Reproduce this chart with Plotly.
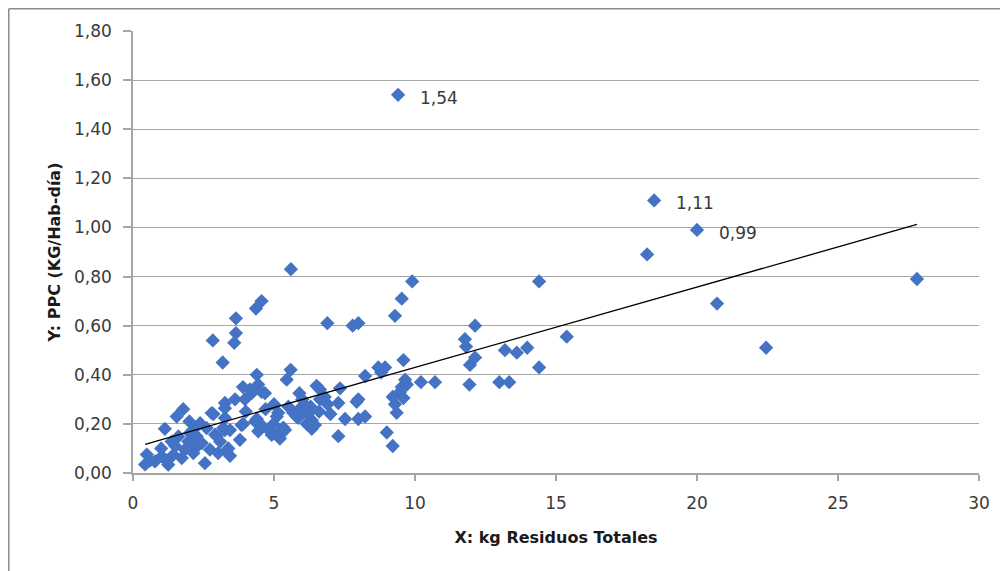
import plotly.graph_objects as go

# Data
x_vals = [
    9.40, 18.48, 20.00, 18.23, 20.71, 22.45, 27.80,
    5.60, 4.56, 4.36, 3.65, 3.65, 3.59, 2.83, 3.18,
    6.89, 7.79, 7.99, 9.29, 9.53, 9.90, 14.40,
    12.13, 11.77, 11.81, 15.38, 13.19, 13.61, 13.98, 12.13, 11.95, 14.40, 9.59,
    11.93, 12.99, 13.34, 10.21, 10.71, 9.65, 9.53, 9.59,
    5.59, 5.45, 8.70, 8.94, 8.23, 6.51, 5.90, 7.34, 6.63, 9.71, 9.47, 9.21,
    7.93, 7.28, 9.29, 9.35, 5.51, 5.10, 5.80, 6.16, 6.34, 7.52, 7.99, 8.23,
    5.39, 5.21, 7.28, 9.00, 9.21, 4.86, 8.80, 6.63, 6.45, 7.99,
    6.00, 6.30, 6.60, 6.90, 7.00, 6.20, 6.80, 5.90,
    4.39, 4.44, 4.21, 4.68, 3.62, 3.97, 6.16, 5.68, 5.15, 3.26, 3.26, 3.85,
    4.33, 4.44, 4.92, 5.33, 5.86, 6.34, 3.79, 3.38, 3.44,
    4.56, 4.15, 2.85, 4.98, 5.10, 4.39, 3.91, 3.44, 2.97, 3.32,
    1.78, 1.55, 1.13, 0.49, 0.43, 0.78, 1.02, 1.25, 1.43, 1.73, 1.84, 2.14,
    1.96, 2.26, 2.44, 2.55, 2.73, 3.02, 3.09, 2.91, 2.61, 2.38, 2.79, 3.26,
    3.26, 3.20, 2.02, 1.61, 1.37, 2.14, 0.60, 1.00, 1.50, 2.00, 2.20, 1.20,
    3.90, 4.00, 4.70, 5.00, 4.60,
]
y_vals = [
    1.54, 1.11, 0.99, 0.89, 0.69, 0.51, 0.79,
    0.83, 0.70, 0.67, 0.63, 0.57, 0.53, 0.54, 0.45,
    0.61, 0.60, 0.61, 0.64, 0.71, 0.78, 0.78,
    0.60, 0.545, 0.515, 0.555, 0.50, 0.49, 0.51, 0.47, 0.44, 0.43, 0.46,
    0.36, 0.37, 0.37, 0.37, 0.37, 0.38, 0.35, 0.305,
    0.42, 0.38, 0.43, 0.43, 0.395, 0.355, 0.325, 0.345, 0.30, 0.36, 0.33, 0.31,
    0.29, 0.285, 0.28, 0.245, 0.27, 0.23, 0.23, 0.20, 0.18, 0.22, 0.22, 0.23,
    0.175, 0.14, 0.15, 0.165, 0.11, 0.17, 0.41, 0.34, 0.195, 0.30,
    0.30, 0.27, 0.25, 0.28, 0.24, 0.24, 0.31, 0.26,
    0.40, 0.36, 0.325, 0.325, 0.30, 0.30, 0.27, 0.245, 0.245, 0.285, 0.175, 0.195,
    0.21, 0.17, 0.155, 0.185, 0.225, 0.215, 0.135, 0.10, 0.07,
    0.33, 0.34, 0.24, 0.20, 0.155, 0.22, 0.20, 0.175, 0.15, 0.09,
    0.26, 0.23, 0.18, 0.075, 0.035, 0.047, 0.068, 0.034, 0.074, 0.061, 0.095, 0.081,
    0.128, 0.149, 0.122, 0.04, 0.095, 0.081, 0.128, 0.156, 0.183, 0.203, 0.244, 0.264,
    0.224, 0.183, 0.163, 0.149, 0.128, 0.176, 0.05, 0.10, 0.11, 0.21, 0.10, 0.05,
    0.35, 0.25, 0.26, 0.28, 0.19,
]

# Labelled points
label_x = [9.40, 18.48, 20.00]
label_y = [1.54, 1.11, 0.99]
label_text = ["1,54", "1,11", "0,99"]

# Linear trendline
trend_slope = 0.0327
trend_intercept = 0.103

y_ticks = [0.0, 0.2, 0.4, 0.6, 0.8, 1.0, 1.2, 1.4, 1.6, 1.8]
x_ticks = [0, 5, 10, 15, 20, 25, 30]

x_title = "X: kg Residuos Totales"
y_title = "Y: PPC (KG/Hab-día)"

FONT = "'DejaVu Sans', Verdana, sans-serif"
BLUE = "#4472C4"
GRID = "#A6A6A6"
TXT = "#3A3A3A"

tx = [min(x_vals), max(x_vals)]
ty = [trend_intercept + trend_slope * v for v in tx]

fig = go.Figure()
fig.add_trace(go.Scatter(
    x=x_vals, y=y_vals, mode="markers",
    marker=dict(symbol="diamond", size=11, color=BLUE, line=dict(width=0)),
    hoverinfo="x+y", showlegend=False,
))
fig.add_trace(go.Scatter(
    x=tx, y=ty, mode="lines",
    line=dict(color="black", width=1.3),
    hoverinfo="skip", showlegend=False,
))

for lx, ly, lt in zip(label_x, label_y, label_text):
    fig.add_annotation(x=lx, y=ly, text=lt, showarrow=False,
                       xanchor="left", yanchor="middle", xshift=20, yshift=-3,
                       font=dict(family=FONT, size=17, color=TXT))

# page body has an 8px margin, so the figure is 8px smaller than the window
W, H = 1000, 563
L, R, T, B = 125, 29, 23, 98
pw = W - L - R
ph = H - T - B
bx = (0.75 - L) / pw
by_top = (H - B - 0.75) / ph
by_bot = (H - B - H) / ph
bx_right = (W - L) / pw

fig.add_shape(type="line", xref="paper", yref="paper",
              x0=bx, x1=bx, y0=by_bot, y1=by_top,
              line=dict(color="#8C8C8C", width=1.5))
fig.add_shape(type="line", xref="paper", yref="paper",
              x0=bx, x1=bx_right, y0=by_top, y1=by_top,
              line=dict(color="#8C8C8C", width=1.5))

fig.update_layout(
    width=W, height=H,
    margin=dict(l=L, r=R, t=T, b=B),
    paper_bgcolor="white", plot_bgcolor="white",
    separators=",.",
    font=dict(family=FONT, size=17, color=TXT),
    xaxis=dict(
        range=[0, 30], tickvals=x_ticks, showgrid=False, zeroline=False,
        showline=True, linecolor=GRID, linewidth=1.5,
        ticks="outside", ticklen=6, tickcolor=GRID, tickwidth=1.5,
        ticklabelstandoff=8,
        title=dict(text="<b>" + x_title + "</b>", font=dict(family=FONT, size=16, color="#1a1a1a"), standoff=20),
    ),
    yaxis=dict(
        range=[0, 1.8], tickvals=y_ticks, tickformat=".2f",
        showgrid=True, gridcolor=GRID, gridwidth=1.3, zeroline=False,
        showline=True, linecolor=GRID, linewidth=1.5,
        ticks="outside", ticklen=8, tickcolor=GRID, tickwidth=1.5,
        ticklabelstandoff=8,
        title=dict(text="<b>" + y_title + "</b>", font=dict(family=FONT, size=16, color="#1a1a1a"), standoff=9),
    ),
)

fig.write_html("out.html")
